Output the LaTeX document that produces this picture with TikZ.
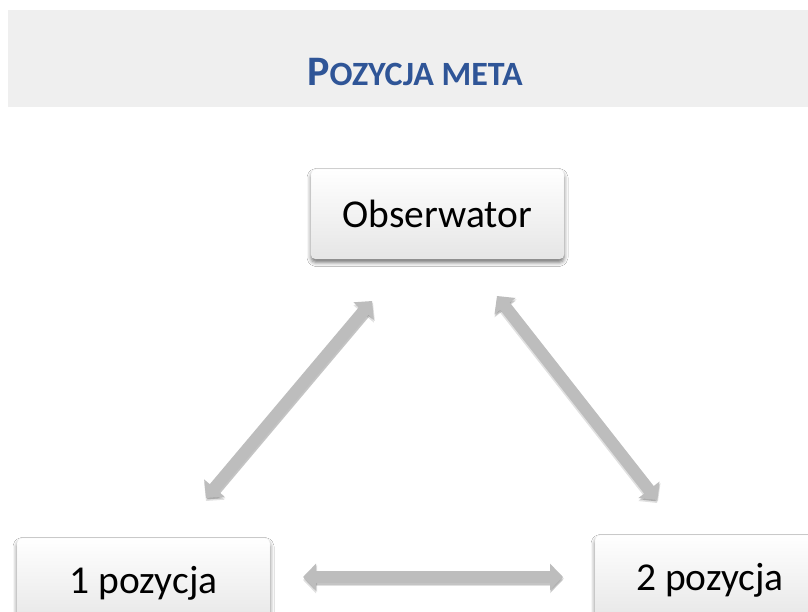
\documentclass[tikz,border=0pt]{standalone}
\usepackage{fontspec}
\setmainfont{Carlito}
\usetikzlibrary{arrows.meta,shadows.blur}
\definecolor{titleblue}{HTML}{2F5597}
\definecolor{bandgray}{HTML}{EFEFEF}
\definecolor{arrowgray}{HTML}{BDBDBD}

\begin{document}
\begin{tikzpicture}[x=1pt,y=-1pt,
  posbox/.style={rounded corners=5pt, top color=white, bottom color=black!10,
    draw=black!6, line width=0.4pt, minimum height=90pt, inner sep=0pt,
    font=\fontsize{39.5}{44}\selectfont,
    blur shadow={shadow xshift=0pt, shadow yshift=-3.5pt,
      shadow blur radius=4pt, shadow opacity=55}},
  link/.style={line width=12pt, draw=arrowgray, {Triangle[width=26pt,length=13pt]}-{Triangle[width=26pt,length=13pt]}},
  linkshade/.style={line width=12pt, draw=black, opacity=.12, {Triangle[width=26pt,length=13pt]}-{Triangle[width=26pt,length=13pt]}}
]
\useasboundingbox (0,0) rectangle (808,612);
\clip (0,0) rectangle (808,612);
\fill[white] (0,0) rectangle (808,612);

% title band
\node[fill=bandgray, minimum width=800pt, minimum height=97pt,
  anchor=north west, inner sep=0pt] (band) at (8,10) {};
\node[text=titleblue, font=\bfseries, anchor=base, inner sep=0pt] (title) at (415,85.5)
  {{\fontsize{42}{42}\selectfont P}{\fontsize{34}{34}\selectfont OZYCJA META}};

% position boxes
\node[posbox, minimum width=253pt] (obs) at (437.5,214) {\raisebox{-2pt}{Obserwator}};
\node[posbox, minimum width=253pt] (p1) at (143.5,583) {1 pozycja};
\node[posbox, minimum width=230pt] (p2) at (710,580) {2 pozycja};

% arrow end points
\coordinate (a1) at (372,301);
\coordinate (b1) at (206,498);
\coordinate (a2) at (497,296);
\coordinate (b2) at (657,500);
\coordinate (a3) at (303,577);
\coordinate (b3) at (563,577);

% arrow shadows
\foreach \s/\e in {a1/b1,a2/b2,a3/b3}{
  \draw[linkshade, transform canvas={yshift=-3pt}] (\s) -- (\e);
  \draw[linkshade, transform canvas={xshift=1pt,yshift=-1.5pt}] (\s) -- (\e);
}
% arrows
\draw[link] (a1) -- (b1);
\draw[link] (a2) -- (b2);
\draw[link] (a3) -- (b3);
\end{tikzpicture}
\end{document}
